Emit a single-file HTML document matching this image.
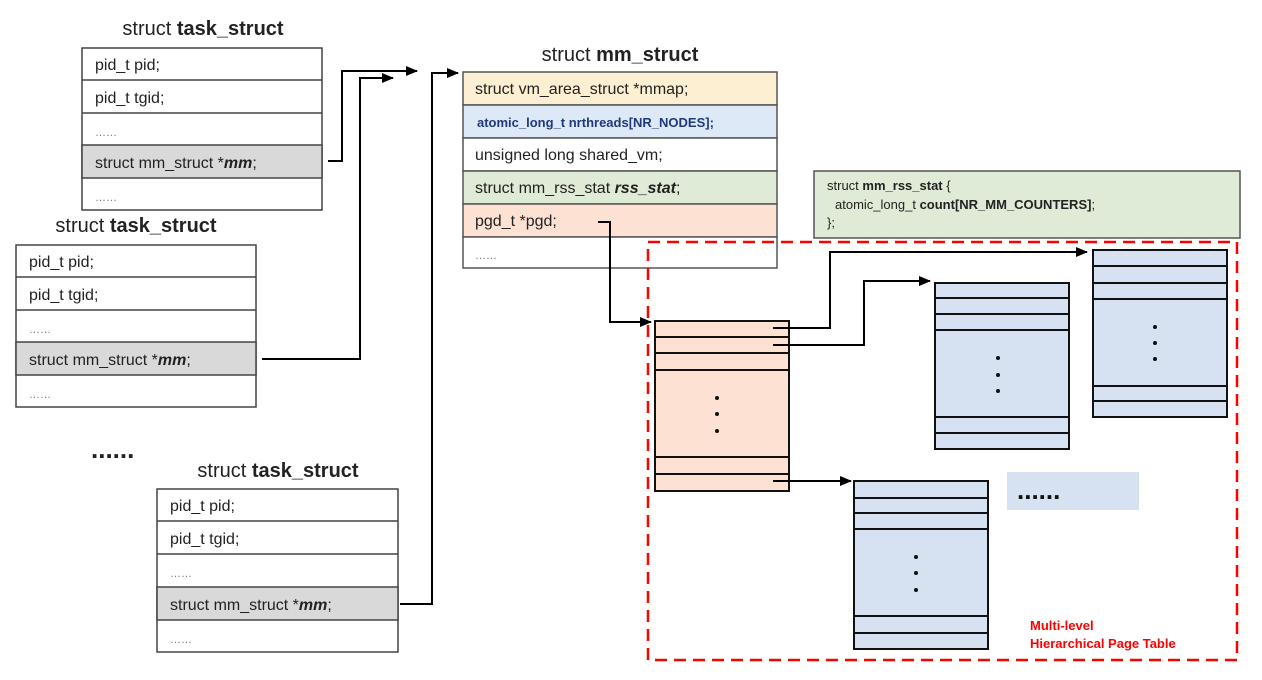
<!DOCTYPE html>
<html><head><meta charset="utf-8"><style>
html,body{margin:0;padding:0;background:#fff;width:1262px;height:680px;overflow:hidden}
svg{display:block;font-family:"Liberation Sans",Arial,sans-serif}
</style></head><body>
<svg width="1262" height="680" viewBox="0 0 1262 680" xmlns="http://www.w3.org/2000/svg">
<defs>
<marker id="ah" markerWidth="12" markerHeight="10" refX="11" refY="5" orient="auto" markerUnits="userSpaceOnUse">
<path d="M0,0 L12,5 L0,10 z" fill="#000"/></marker>
</defs>

<!-- task_struct 1 -->
<g font-size="16" fill="#222">
<text x="203" y="35" text-anchor="middle" font-size="20">struct <tspan font-weight="bold">task_struct</tspan></text>
<rect x="82" y="48" width="240" height="162" fill="#fff" stroke="#444" stroke-width="1.5"/>
<rect x="82" y="145" width="240" height="33" fill="#d9d9d9" stroke="#444" stroke-width="1.5"/>
<line x1="82" y1="80" x2="322" y2="80" stroke="#444" stroke-width="1.5"/>
<line x1="82" y1="113" x2="322" y2="113" stroke="#444" stroke-width="1.5"/>
<text x="95" y="70">pid_t pid;</text>
<text x="95" y="103">pid_t tgid;</text>
<text x="95" y="136" font-size="11" fill="#777">……</text>
<text x="95" y="168">struct mm_struct *<tspan font-weight="bold" font-style="italic">mm</tspan>;</text>
<text x="95" y="201" font-size="11" fill="#777">……</text>
</g>

<!-- task_struct 2 -->
<g font-size="16" fill="#222">
<text x="136" y="232" text-anchor="middle" font-size="20">struct <tspan font-weight="bold">task_struct</tspan></text>
<rect x="16" y="245" width="240" height="162" fill="#fff" stroke="#444" stroke-width="1.5"/>
<rect x="16" y="342" width="240" height="33" fill="#d9d9d9" stroke="#444" stroke-width="1.5"/>
<line x1="16" y1="277" x2="256" y2="277" stroke="#444" stroke-width="1.5"/>
<line x1="16" y1="310" x2="256" y2="310" stroke="#444" stroke-width="1.5"/>
<text x="29" y="267">pid_t pid;</text>
<text x="29" y="300">pid_t tgid;</text>
<text x="29" y="333" font-size="11" fill="#777">……</text>
<text x="29" y="365">struct mm_struct *<tspan font-weight="bold" font-style="italic">mm</tspan>;</text>
<text x="29" y="398" font-size="11" fill="#777">……</text>
</g>

<text x="91" y="458" font-size="26" font-weight="bold" fill="#222">......</text>

<!-- task_struct 3 -->
<g font-size="16" fill="#222">
<text x="278" y="477" text-anchor="middle" font-size="20">struct <tspan font-weight="bold">task_struct</tspan></text>
<rect x="157" y="489" width="241" height="163" fill="#fff" stroke="#444" stroke-width="1.5"/>
<rect x="157" y="587" width="241" height="33" fill="#d9d9d9" stroke="#444" stroke-width="1.5"/>
<line x1="157" y1="521" x2="398" y2="521" stroke="#444" stroke-width="1.5"/>
<line x1="157" y1="554" x2="398" y2="554" stroke="#444" stroke-width="1.5"/>
<text x="170" y="511">pid_t pid;</text>
<text x="170" y="544">pid_t tgid;</text>
<text x="170" y="577" font-size="11" fill="#777">……</text>
<text x="170" y="610">struct mm_struct *<tspan font-weight="bold" font-style="italic">mm</tspan>;</text>
<text x="170" y="643" font-size="11" fill="#777">……</text>
</g>

<!-- connectors from task structs -->
<g fill="none" stroke="#000" stroke-width="2">
<polyline points="328,161 342,161 342,71 417,71" marker-end="url(#ah)"/>
<polyline points="262,359 360,359 360,78 393,78" marker-end="url(#ah)"/>
<polyline points="400,604 432,604 432,73 458,73" marker-end="url(#ah)"/>
</g>

<!-- mm_struct -->
<g font-size="16" fill="#222">
<text x="620" y="61" text-anchor="middle" font-size="20">struct <tspan font-weight="bold">mm_struct</tspan></text>
<rect x="463" y="72" width="314" height="33" fill="#fdefd1" stroke="#555" stroke-width="1.5"/>
<rect x="463" y="105" width="314" height="33" fill="#dde9f6" stroke="#555" stroke-width="1.5"/>
<rect x="463" y="138" width="314" height="33" fill="#fff" stroke="#555" stroke-width="1.5"/>
<rect x="463" y="171" width="314" height="33" fill="#dfebd6" stroke="#555" stroke-width="1.5"/>
<rect x="463" y="204" width="314" height="33" fill="#fde2d3" stroke="#555" stroke-width="1.5"/>
<rect x="463" y="237" width="314" height="31" fill="#fff" stroke="#555" stroke-width="1.5"/>
<text x="475" y="94">struct vm_area_struct *mmap;</text>
<text x="477" y="127" font-size="13" font-weight="bold" fill="#1f3a7a">atomic_long_t nrthreads[NR_NODES];</text>
<text x="475" y="160">unsigned long shared_vm;</text>
<text x="475" y="193">struct mm_rss_stat <tspan font-weight="bold" font-style="italic">rss_stat</tspan>;</text>
<text x="475" y="226">pgd_t *pgd;</text>
<text x="475" y="259" font-size="11" fill="#777">……</text>
</g>

<!-- rss_stat box -->
<rect x="814" y="171" width="426" height="67" fill="#dfebd6" stroke="#555" stroke-width="1.5"/>
<g font-size="13" fill="#222">
<text x="827" y="190">struct <tspan font-weight="bold">mm_rss_stat</tspan> {</text>
<text x="835" y="209">atomic_long_t <tspan font-weight="bold">count[NR_MM_COUNTERS]</tspan>;</text>
<text x="827" y="227">};</text>
</g>

<!-- red dashed region -->
<rect x="648" y="242" width="589" height="418" fill="none" stroke="#f00" stroke-width="2.5" stroke-dasharray="12,7"/>
<text x="1030" y="630" font-size="13" font-weight="bold" fill="#f00">Multi-level</text>
<text x="1030" y="648" font-size="13" font-weight="bold" fill="#f00">Hierarchical Page Table</text>

<!-- pgd arrow -->
<polyline points="598,222 610,222 610,322 651,322" fill="none" stroke="#000" stroke-width="2" marker-end="url(#ah)"/>

<!-- pgd table -->
<g stroke="#111" stroke-width="2">
<rect x="655" y="321" width="134" height="170" fill="#fde2d3"/>
<line x1="655" y1="337" x2="789" y2="337"/><line x1="655" y1="353" x2="789" y2="353"/><line x1="655" y1="370" x2="789" y2="370"/>
<line x1="655" y1="457" x2="789" y2="457"/><line x1="655" y1="474" x2="789" y2="474"/>
</g>
<g fill="#111"><circle cx="717" cy="398" r="2"/><circle cx="717" cy="414" r="2"/><circle cx="717" cy="431" r="2"/></g>

<!-- table A -->
<g stroke="#111" stroke-width="2">
<rect x="935" y="283" width="134" height="166" fill="#d6e2f1"/>
<line x1="935" y1="298" x2="1069" y2="298"/><line x1="935" y1="314" x2="1069" y2="314"/><line x1="935" y1="330" x2="1069" y2="330"/>
<line x1="935" y1="417" x2="1069" y2="417"/><line x1="935" y1="433" x2="1069" y2="433"/>
</g>
<g fill="#111"><circle cx="998" cy="358" r="2"/><circle cx="998" cy="375" r="2"/><circle cx="998" cy="391" r="2"/></g>

<!-- table B -->
<g stroke="#111" stroke-width="2">
<rect x="1093" y="250" width="134" height="167" fill="#d6e2f1"/>
<line x1="1093" y1="266" x2="1227" y2="266"/><line x1="1093" y1="283" x2="1227" y2="283"/><line x1="1093" y1="299" x2="1227" y2="299"/>
<line x1="1093" y1="386" x2="1227" y2="386"/><line x1="1093" y1="401" x2="1227" y2="401"/>
</g>
<g fill="#111"><circle cx="1155" cy="327" r="2"/><circle cx="1155" cy="343" r="2"/><circle cx="1155" cy="359" r="2"/></g>

<!-- table C -->
<g stroke="#111" stroke-width="2">
<rect x="854" y="481" width="134" height="168" fill="#d6e2f1"/>
<line x1="854" y1="498" x2="988" y2="498"/><line x1="854" y1="513" x2="988" y2="513"/><line x1="854" y1="529" x2="988" y2="529"/>
<line x1="854" y1="616" x2="988" y2="616"/><line x1="854" y1="633" x2="988" y2="633"/>
</g>
<g fill="#111"><circle cx="916" cy="557" r="2"/><circle cx="916" cy="573" r="2"/><circle cx="916" cy="590" r="2"/></g>

<!-- ...... box -->
<rect x="1007" y="472" width="132" height="38" fill="#d6e2f1"/>
<text x="1017" y="499" font-size="26" font-weight="bold" fill="#111">......</text>

<!-- arrows from pgd table -->
<g fill="none" stroke="#000" stroke-width="2">
<polyline points="773,328 830,328 830,252 1087,252" marker-end="url(#ah)"/>
<polyline points="773,345 864,345 864,281 930,281" marker-end="url(#ah)"/>
<polyline points="773,481 851,481" marker-end="url(#ah)"/>
</g>
</svg>
</body></html>
